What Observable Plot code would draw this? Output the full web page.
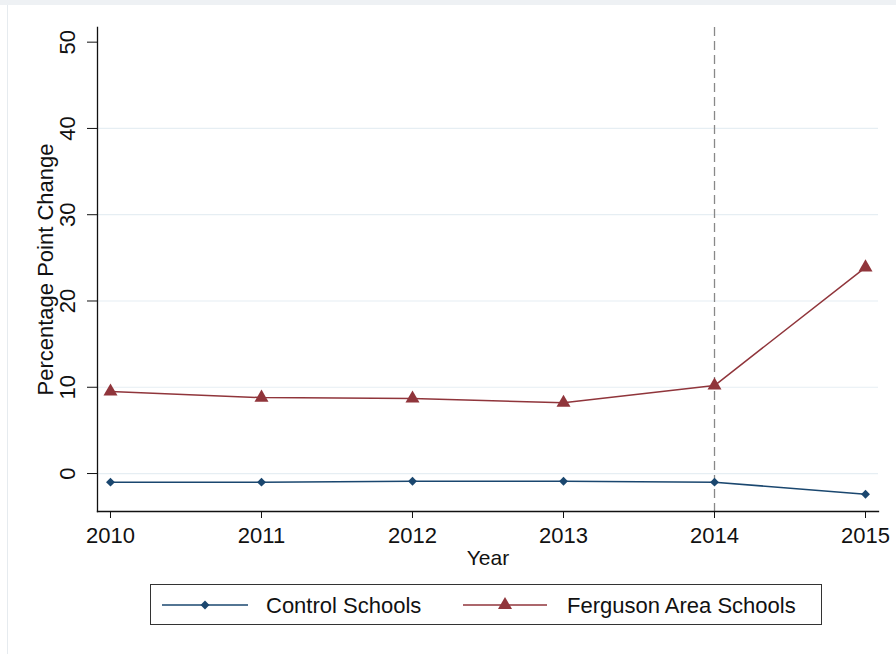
<!DOCTYPE html>
<html>
<head>
<meta charset="utf-8">
<script src="https://cdn.jsdelivr.net/npm/d3@7"></script>
<script src="https://cdn.jsdelivr.net/npm/@observablehq/plot@0.6"></script>
<style>
  html, body { margin: 0; padding: 0; background: #fff; }
  body { width: 896px; height: 654px; position: relative; overflow: hidden; font-family: "Liberation Sans", Arial, sans-serif; }
  #topband { position: absolute; left: 0; top: 0; width: 896px; height: 5px; background: #eef1f4; }
  #leftline { position: absolute; left: 7px; top: 5px; width: 1px; height: 649px; background: #e6ebef; }
  #chart { position: absolute; left: 0; top: 0; }
  #legend { position: absolute; left: 150px; top: 584px; width: 670px; height: 39px; border: 1px solid #333; background: #fff; }
  #legend svg { position: absolute; left: 0; top: 0; }
</style>
</head>
<body>
<div id="topband"></div>
<div id="leftline"></div>
<div id="chart"></div>
<div id="legend"></div>
<script>
const years = [2010, 2011, 2012, 2013, 2014, 2015];
const controlValues = [-1.0, -1.0, -0.9, -0.9, -1.0, -2.4];
const fergusonValues = [9.5, 8.8, 8.7, 8.2, 10.2, 23.9];
const seriesNames = ["Control Schools", "Ferguson Area Schools"];
const yTicks = [0, 10, 20, 30, 40, 50];
const gridTicks = [0, 10, 20, 30, 40];
const eventYear = [2014];

const colors = { "Control Schools": "#1a476f", "Ferguson Area Schools": "#90353b" };
const data = [];
years.forEach((y, i) => {
  data.push({ year: y, value: controlValues[i], series: seriesNames[0] });
  data.push({ year: y, value: fergusonValues[i], series: seriesNames[1] });
});
const control = data.filter(d => d.series === seriesNames[0]);
const ferguson = data.filter(d => d.series === seriesNames[1]);

const font = "Liberation Sans, Arial, sans-serif";
const chart = Plot.plot({
  width: 896,
  height: 575,
  marginTop: 27,
  marginBottom: 64,
  marginLeft: 97,
  marginRight: 18,
  style: { fontFamily: font, background: "transparent", color: "#111" },
  x: { domain: [2009.914, 2015.086] },
  y: { domain: [-4.4, 51.7] },
  marks: [
    Plot.gridY(gridTicks, { stroke: "#e6eef3", strokeOpacity: 1, strokeWidth: 1.2 }),
    Plot.ruleX(eventYear, { stroke: "#888", strokeDasharray: "9,5", strokeWidth: 1.3 }),
    Plot.frame({ anchor: "left", stroke: "#111", strokeWidth: 1.3 }),
    Plot.frame({ anchor: "bottom", stroke: "#111", strokeWidth: 1.3 }),
    Plot.axisX({ ticks: years, tickFormat: d => String(d), tickSize: 7, tickPadding: 9, fontSize: 22, label: null, stroke: "#111" }),
    Plot.axisY({ ticks: yTicks, tickFormat: () => "", tickSize: 10, label: null, stroke: "#111" }),
    Plot.text(yTicks, { y: d => d, text: d => String(d), frameAnchor: "left", dx: -29.5, rotate: -90, textAnchor: "middle", lineAnchor: "middle", fontSize: 22, fill: "#111" }),
    Plot.text(["Year"], { frameAnchor: "bottom", dy: 46.5, textAnchor: "middle", lineAnchor: "middle", fontSize: 21, fill: "#111" }),
    Plot.text(["Percentage Point Change"], { frameAnchor: "left", dx: -52, rotate: -90, textAnchor: "middle", lineAnchor: "middle", fontSize: 22, fill: "#111" }),
    Plot.line(control, { x: "year", y: "value", stroke: colors["Control Schools"], strokeWidth: 1.5 }),
    Plot.line(ferguson, { x: "year", y: "value", stroke: colors["Ferguson Area Schools"], strokeWidth: 1.5 }),
    Plot.dot(control, { x: "year", y: "value", symbol: "diamond2", r: 4, fill: colors["Control Schools"], stroke: "none" }),
    Plot.dot(ferguson, { x: "year", y: "value", symbol: "triangle", r: 5.2, fill: colors["Ferguson Area Schools"], stroke: "none" })
  ]
});
document.getElementById("chart").appendChild(chart);

// Legend
const ns = "http://www.w3.org/2000/svg";
const lg = document.createElementNS(ns, "svg");
lg.setAttribute("width", 670);
lg.setAttribute("height", 39);
const items = [
  { name: seriesNames[0], x0: 11, x1: 97, sym: "diamond", tx: 115 },
  { name: seriesNames[1], x0: 312, x1: 396, sym: "triangle", tx: 416 }
];
items.forEach(it => {
  const c = colors[it.name];
  const cy = 20;
  const line = document.createElementNS(ns, "line");
  line.setAttribute("x1", it.x0); line.setAttribute("x2", it.x1);
  line.setAttribute("y1", cy); line.setAttribute("y2", cy);
  line.setAttribute("stroke", c); line.setAttribute("stroke-width", 1.5);
  lg.appendChild(line);
  const mx = (it.x0 + it.x1) / 2;
  const p = document.createElementNS(ns, "path");
  if (it.sym === "diamond") {
    p.setAttribute("d", d3.symbol(d3.symbolDiamond2, Math.PI * 16)());
  } else {
    p.setAttribute("d", d3.symbol(d3.symbolTriangle, Math.PI * 5.2 * 5.2)());
  }
  p.setAttribute("transform", `translate(${mx},${cy})`);
  p.setAttribute("fill", c);
  lg.appendChild(p);
  const t = document.createElementNS(ns, "text");
  t.setAttribute("x", it.tx);
  t.setAttribute("y", cy);
  t.setAttribute("dy", "0.35em");
  t.setAttribute("font-size", 22);
  t.setAttribute("font-family", font);
  t.setAttribute("fill", "#111");
  t.textContent = it.name;
  lg.appendChild(t);
});
document.getElementById("legend").appendChild(lg);
</script>
</body>
</html>
